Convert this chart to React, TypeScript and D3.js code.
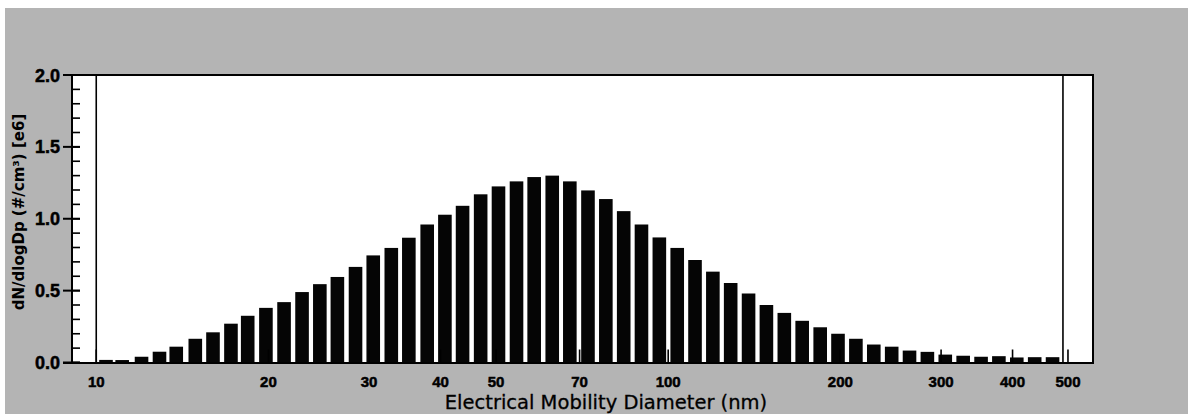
import { useEffect, useRef } from "react";
import * as d3 from "d3";

// channel midpoints (nm), 32 channels per decade
const diameters = [
  10.4, 11.1, 12.0, 12.9, 13.8, 14.9, 16.0, 17.2, 18.4, 19.8,
  21.3, 22.9, 24.6, 26.4, 28.4, 30.5, 32.8, 35.2, 37.9, 40.7,
  43.7, 47.0, 50.5, 54.3, 58.3, 62.7, 67.3, 72.4, 77.8, 83.6,
  89.8, 96.5, 103.7, 111.4, 119.7, 128.6, 138.2, 148.5, 159.6, 171.5,
  184.4, 198.1, 212.9, 228.8, 245.9, 264.2, 283.9, 305.1, 327.9, 352.4,
  378.6, 406.9, 437.3, 469.9,
];

// dN/dlogDp in units of 1e6 #/cm3
const concentration = [
  0.018, 0.017, 0.04, 0.075, 0.11, 0.165, 0.21, 0.27, 0.325, 0.38,
  0.42, 0.49, 0.545, 0.595, 0.665, 0.745, 0.797, 0.868, 0.96, 1.028,
  1.09, 1.17, 1.225, 1.26, 1.29, 1.3, 1.26, 1.197, 1.137, 1.053,
  0.96, 0.87, 0.797, 0.713, 0.632, 0.553, 0.48, 0.4, 0.345, 0.29,
  0.245, 0.2, 0.165, 0.125, 0.11, 0.083, 0.074, 0.055, 0.047, 0.04,
  0.044, 0.035, 0.037, 0.037,
];

const xTickValues = [10, 20, 30, 40, 50, 70, 100, 200, 300, 400, 500];
const yMajorTicks = [0, 0.5, 1.0, 1.5, 2.0];
const cursorDiameters = [10, 490];
const xDomain = [9.07, 553];
const yDomain = [0, 2];

export default function App() {
  const ref = useRef<SVGSVGElement | null>(null);

  useEffect(() => {
    const width = 1188;
    const height = 414;
    const left = 72;
    const right = 1093;
    const top = 75;
    const bottom = 362.5;

    const svg = d3.select(ref.current);
    svg.selectAll("*").remove();

    const x = d3.scaleLog().domain(xDomain).range([left, right]);
    const y = d3.scaleLinear().domain(yDomain).range([bottom, top]);

    // page + scanned gray background
    svg.append("rect").attr("width", width).attr("height", height).attr("fill", "#ffffff");
    svg.append("rect")
      .attr("x", 5).attr("y", 8)
      .attr("width", width - 5).attr("height", height - 8)
      .attr("fill", "#b4b4b4");

    // plot area
    svg.append("rect")
      .attr("x", left).attr("y", top)
      .attr("width", right - left).attr("height", bottom - top)
      .attr("fill", "#ffffff");

    // bars
    const barW = 13.6;
    svg.append("g")
      .selectAll("rect")
      .data(diameters)
      .join("rect")
      .attr("x", (d) => x(d) - barW / 2)
      .attr("width", barW)
      .attr("y", (d, i) => y(concentration[i]))
      .attr("height", (d, i) => bottom - y(concentration[i]))
      .attr("fill", "#050505");

    // cursor lines
    svg.append("g")
      .selectAll("line")
      .data(cursorDiameters)
      .join("line")
      .attr("x1", (d) => x(d)).attr("x2", (d) => x(d))
      .attr("y1", top).attr("y2", bottom)
      .attr("stroke", "#000").attr("stroke-width", 1.6);

    // frame
    svg.append("path")
      .attr("d", `M${left},${bottom}V${top}H${right}V${bottom + 0.5}`)
      .attr("fill", "none")
      .attr("stroke", "#000")
      .attr("stroke-width", 2);
    svg.append("line")
      .attr("x1", 63).attr("x2", right + 1)
      .attr("y1", bottom + 0.5).attr("y2", bottom + 0.5)
      .attr("stroke", "#000").attr("stroke-width", 2.2);

    // y ticks
    const yMinor = d3.range(0, 2.0001, 0.1);
    svg.append("g")
      .selectAll("line")
      .data(yMinor)
      .join("line")
      .attr("x1", left).attr("x2", left + 8)
      .attr("y1", (d) => y(d)).attr("y2", (d) => y(d))
      .attr("stroke", "#000").attr("stroke-width", 1.6);
    svg.append("g")
      .selectAll("line")
      .data(yMajorTicks)
      .join("line")
      .attr("x1", 63).attr("x2", left + 8)
      .attr("y1", (d) => y(d)).attr("y2", (d) => y(d))
      .attr("stroke", "#000").attr("stroke-width", 2);
    svg.append("g")
      .selectAll("text")
      .data(yMajorTicks)
      .join("text")
      .attr("x", 60)
      .attr("y", (d) => y(d) + 6.5)
      .attr("text-anchor", "end")
      .attr("font-family", "'Liberation Sans', Arial, sans-serif")
      .attr("font-weight", "bold")
      .attr("font-size", 18)
      .attr("fill", "#000")
      .attr("stroke", "#000")
      .attr("stroke-width", 0.5)
      .text((d) => d.toFixed(1));

    // x ticks
    svg.append("g")
      .selectAll("line")
      .data(xTickValues)
      .join("line")
      .attr("x1", (d) => x(d)).attr("x2", (d) => x(d))
      .attr("y1", bottom).attr("y2", bottom - 13)
      .attr("stroke", "#000").attr("stroke-width", 1.6);
    svg.append("g")
      .selectAll("text")
      .data(xTickValues)
      .join("text")
      .attr("x", (d) => x(d))
      .attr("y", 387)
      .attr("text-anchor", "middle")
      .attr("font-family", "'Liberation Sans', Arial, sans-serif")
      .attr("font-weight", "bold")
      .attr("font-size", 15)
      .attr("fill", "#000")
      .attr("stroke", "#000")
      .attr("stroke-width", 0.5)
      .text((d) => String(d));

    // axis titles
    svg.append("text")
      .attr("x", 606)
      .attr("y", 409)
      .attr("text-anchor", "middle")
      .attr("font-family", "'DejaVu Sans', sans-serif")
      .attr("font-size", 19.5)
      .attr("fill", "#000")
      .attr("stroke", "#000")
      .attr("stroke-width", 0.3)
      .text("Electrical Mobility Diameter (nm)");

    svg.append("text")
      .attr("transform", "translate(24,212) rotate(-90)")
      .attr("text-anchor", "middle")
      .attr("font-family", "'DejaVu Sans', sans-serif")
      .attr("font-weight", "bold")
      .attr("font-size", 15)
      .attr("fill", "#000")
      .text("dN/dlogDp (#/cm³) [e6]");
  }, []);

  return (
    <svg
      ref={ref}
      width={1188}
      height={414}
      style={{ position: "absolute", left: 0, top: 0, display: "block" }}
    />
  );
}
